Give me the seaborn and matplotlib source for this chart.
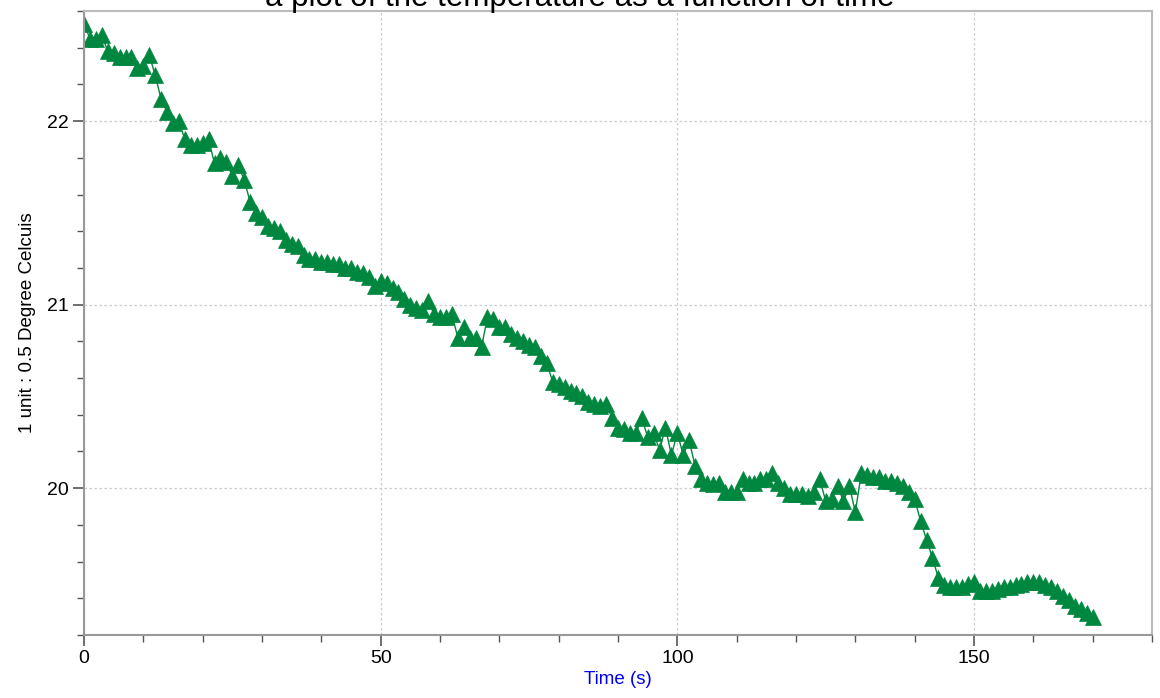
import matplotlib
matplotlib.use('Agg')
import matplotlib.pyplot as plt
from matplotlib.ticker import MultipleLocator
import pandas as pd
import seaborn as sns

# time in seconds, one reading per second
time_s = list(range(0, 171))

temp_c = [
    22.53, 22.45, 22.45, 22.47, 22.38, 22.37, 22.35, 22.35, 22.35, 22.29,
    22.30, 22.36, 22.25, 22.12, 22.05, 21.99, 22.00, 21.90, 21.87, 21.87,
    21.88, 21.90, 21.77, 21.80, 21.78, 21.70, 21.76, 21.68, 21.56, 21.50,
    21.48, 21.43, 21.42, 21.40, 21.35, 21.33, 21.32, 21.27, 21.25, 21.25,
    21.23, 21.23, 21.22, 21.22, 21.20, 21.20, 21.18, 21.17, 21.15, 21.10,
    21.13, 21.12, 21.09, 21.07, 21.03, 21.00, 20.98, 20.97, 21.02, 20.95,
    20.93, 20.93, 20.95, 20.82, 20.88, 20.82, 20.82, 20.77, 20.93, 20.92,
    20.88, 20.88, 20.84, 20.82, 20.80, 20.78, 20.77, 20.72, 20.68, 20.58,
    20.57, 20.55, 20.53, 20.52, 20.50, 20.47, 20.46, 20.45, 20.46, 20.38,
    20.33, 20.32, 20.30, 20.30, 20.38, 20.28, 20.30, 20.21, 20.33, 20.18,
    20.30, 20.18, 20.26, 20.12, 20.05, 20.03, 20.02, 20.03, 19.98, 19.98,
    19.98, 20.05, 20.03, 20.03, 20.05, 20.05, 20.08, 20.03, 20.00, 19.97,
    19.97, 19.97, 19.96, 19.98, 20.05, 19.93, 19.94, 20.01, 19.93, 20.01,
    19.87, 20.08, 20.07, 20.06, 20.06, 20.04, 20.04, 20.03, 20.01, 19.98,
    19.94, 19.82, 19.72, 19.62, 19.51, 19.47, 19.46, 19.46, 19.46, 19.48,
    19.49, 19.44, 19.44, 19.44, 19.45, 19.46, 19.46, 19.47, 19.48, 19.49,
    19.49, 19.49, 19.47, 19.46, 19.44, 19.41, 19.39, 19.36, 19.34, 19.32,
    19.30,
]

df = pd.DataFrame({'time': time_s, 'temp': temp_c})

sns.set_style('white')
plt.rcParams['font.family'] = ['Liberation Sans', 'DejaVu Sans']

fig = plt.figure(figsize=(11.6, 6.98), dpi=100)
ax = fig.add_axes([0.0724, 0.0903, 0.9207, 0.8939])

green = '#00873f'
sns.lineplot(data=df, x='time', y='temp', ax=ax, color=green, linewidth=1.0,
             marker='^', markersize=12, markeredgecolor=green, markeredgewidth=0.5)

ax.set_xlim(0, 180)
ax.set_ylim(19.2, 22.6)
ax.xaxis.set_major_locator(MultipleLocator(50))
ax.xaxis.set_minor_locator(MultipleLocator(10))
ax.yaxis.set_major_locator(MultipleLocator(1))
ax.yaxis.set_minor_locator(MultipleLocator(0.2))

ax.grid(True, which='major', color='#cccccc', linestyle=(0, (2, 2)), linewidth=0.9)
for side in ['left', 'bottom', 'top', 'right']:
    ax.spines[side].set_color('#999999')
    ax.spines[side].set_linewidth(1.5)
ax.spines['top'].set_color('#bbbbbb')
ax.spines['right'].set_color('#bbbbbb')

ax.tick_params(which='major', direction='out', length=8, width=1.2, color='#555555',
               labelsize=14, labelcolor='black', pad=3, bottom=True, left=True)
ax.tick_params(which='minor', direction='out', length=5, width=1.0, color='#555555',
               bottom=True, left=True)

ax.set_xlabel('Time (s)', fontsize=13.5, color='#0000ee', labelpad=3)
ax.set_ylabel('1 unit : 0.5 Degree Celcuis', fontsize=13.5, color='black', labelpad=8)

fig.text(0.5, 1 - 6 / 698, 'a plot of the temperature as a function of time',
         ha='center', va='baseline', fontsize=22.5, color='black')

fig.savefig('out.png', dpi=100)
